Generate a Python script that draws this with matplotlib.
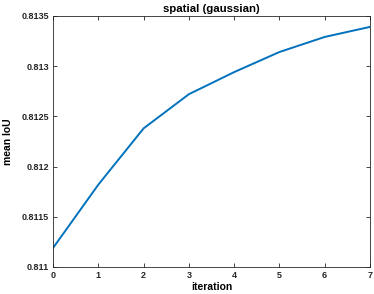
import matplotlib
matplotlib.use('Agg')
from matplotlib import pyplot as plt

iteration = [0, 1, 2, 3, 4, 5, 6, 7]
mean_iou = [0.81119, 0.81182, 0.81238, 0.81272, 0.81294, 0.81314, 0.81329, 0.81339]
yticks = [0.811, 0.8115, 0.812, 0.8125, 0.813, 0.8135]
ytick_labels = ['0.811', '0.8115', '0.812', '0.8125', '0.813', '0.8135']

plt.rcParams['font.family'] = 'Liberation Sans'
plt.rcParams['font.weight'] = 'bold'

fig = plt.figure(figsize=(3.74, 2.94), dpi=100)
ax = fig.add_axes([0.142, 0.092, 0.847, 0.854])
ax.plot(iteration, mean_iou, color='#0072BD', linewidth=1.4)
ax.set_xlim(0, 7)
ax.set_ylim(0.811, 0.8135)
ax.set_xticks(iteration)
ax.set_yticks(yticks)
ax.set_yticklabels(ytick_labels)
ax.tick_params(direction='in', top=True, right=True, labelsize=6.5, length=3,
               width=0.6, colors='#262626', pad=3)
for s in ax.spines.values():
    s.set_linewidth(0.6)
    s.set_color('#262626')
ax.set_xlabel('iteration', fontsize=7.5, fontweight='bold', labelpad=1)
ax.set_ylabel('mean IoU', fontsize=7.5, fontweight='bold', labelpad=6)
ax.set_title('spatial (gaussian)', fontsize=8.2, fontweight='bold', pad=3)
fig.savefig('out.png', dpi=100)
